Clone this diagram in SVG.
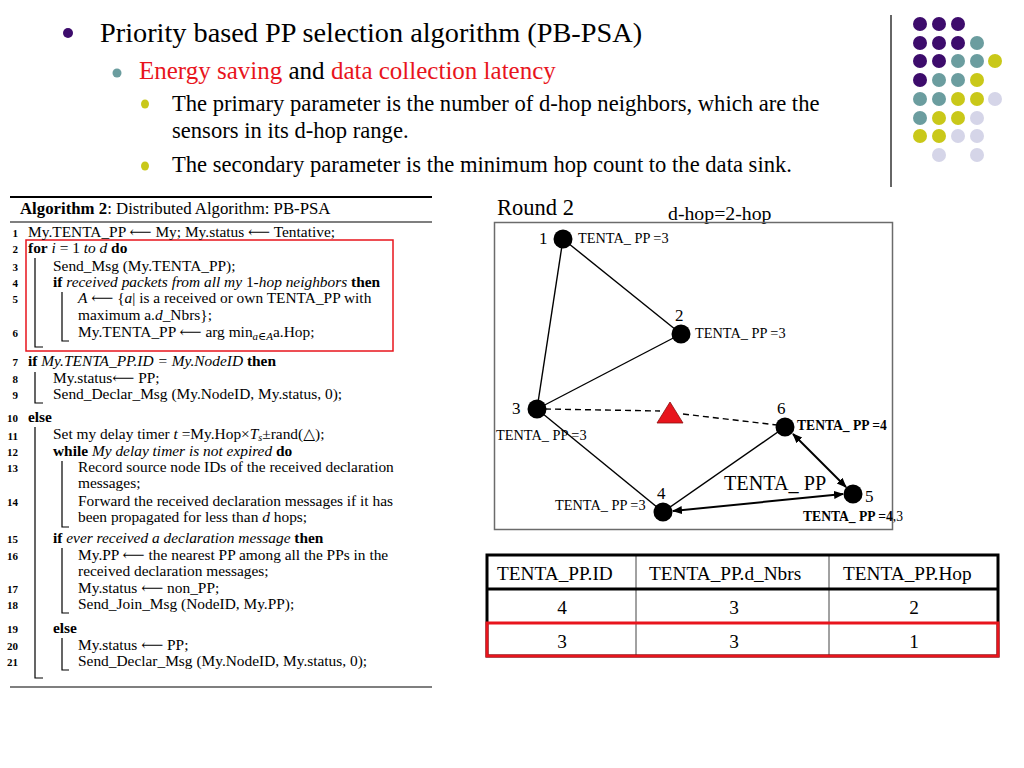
<svg xmlns="http://www.w3.org/2000/svg" width="1024" height="768" viewBox="0 0 1024 768">
<style>
.s{font-family:"Liberation Serif","DejaVu Serif",serif;fill:#000}
.red{fill:#e8141c}
.c{font-size:15.4px}
.n{font-size:11px;font-weight:bold;text-anchor:end}
.b{font-weight:bold}
.i{font-style:italic}
.bar{stroke:#000;stroke-width:1.2;fill:none}
.lbl{font-size:14.3px}
.num{font-size:17px}
.e{stroke:#000;stroke-width:1.4;fill:none}
.a{stroke:#000;stroke-width:2;fill:none;marker-start:url(#ah);marker-end:url(#ah)}
.pu{fill:#3d0c6c}.te{fill:#6b9d9f}.ye{fill:#c9c819}.la{fill:#d5d5e8}
</style>
<defs>
<marker id="ah" viewBox="0 0 10 10" refX="9" refY="5" markerWidth="5" markerHeight="5" orient="auto-start-reverse" markerUnits="strokeWidth"><path d="M0,1 L10,5 L0,9 z" fill="#000"/></marker>
</defs>
<rect width="1024" height="768" fill="#fff"/>

<g id="bullets">
<circle cx="68" cy="33" r="5" class="pu"/>
<text x="100" y="42" class="s" font-size="28.3">Priority based PP selection algorithm (PB-PSA)</text>
<circle cx="117" cy="73" r="4.5" class="te"/>
<text x="139" y="79" class="s" font-size="25"><tspan class="red">Energy saving</tspan> and <tspan class="red">data collection latency</tspan></text>
<ellipse cx="145" cy="104" rx="4" ry="4.5" class="ye"/>
<text x="172" y="111" class="s" font-size="22.6">The primary parameter is the number of d-hop neighbors, which are the</text>
<text x="172" y="138" class="s" font-size="22.6">sensors in its d-hop range.</text>
<ellipse cx="145" cy="166" rx="4" ry="4.5" class="ye"/>
<text x="172" y="172" class="s" font-size="22.6">The secondary parameter is the minimum hop count to the data sink.</text>
</g>

<g id="decor">
<line x1="891" y1="15" x2="891" y2="187" stroke="#333" stroke-width="1.5"/>
<circle cx="920" cy="24" r="7" class="pu"/><circle cx="939" cy="24" r="7" class="pu"/><circle cx="958" cy="24" r="7" class="pu"/>
<circle cx="920" cy="43" r="7" class="pu"/><circle cx="939" cy="43" r="7" class="pu"/><circle cx="958" cy="43" r="7" class="pu"/><circle cx="977" cy="43" r="7" class="te"/>
<circle cx="920" cy="61" r="7" class="pu"/><circle cx="939" cy="61" r="7" class="pu"/><circle cx="958" cy="61" r="7" class="te"/><circle cx="977" cy="61" r="7" class="te"/><circle cx="995" cy="61" r="7" class="ye"/>
<circle cx="920" cy="80" r="7" class="pu"/><circle cx="939" cy="80" r="7" class="te"/><circle cx="958" cy="80" r="7" class="te"/><circle cx="977" cy="80" r="7" class="ye"/>
<circle cx="920" cy="99" r="7" class="te"/><circle cx="939" cy="99" r="7" class="te"/><circle cx="958" cy="99" r="7" class="ye"/><circle cx="977" cy="99" r="7" class="ye"/><circle cx="995" cy="99" r="7" class="la"/>
<circle cx="920" cy="118" r="7" class="te"/><circle cx="939" cy="118" r="7" class="ye"/><circle cx="958" cy="118" r="7" class="ye"/><circle cx="977" cy="118" r="7" class="la"/>
<circle cx="920" cy="136" r="7" class="ye"/><circle cx="939" cy="136" r="7" class="ye"/><circle cx="958" cy="136" r="7" class="la"/><circle cx="977" cy="136" r="7" class="la"/>
<circle cx="939" cy="155" r="7" class="la"/><circle cx="977" cy="155" r="7" class="la"/>
</g>

<g id="algorithm">
<line x1="10" y1="197" x2="432" y2="197" stroke="#000" stroke-width="2"/>
<text x="20" y="214" class="s" font-size="16.8"><tspan class="b">Algorithm 2</tspan>: Distributed Algorithm: PB-PSA</text>
<line x1="10" y1="222" x2="432" y2="222" stroke="#000" stroke-width="1.2"/>
<rect x="26" y="240" width="367" height="111" fill="none" stroke="#e8141c" stroke-width="1.5"/>
<g class="s">
<text x="18" y="237" class="n">1</text><text x="18" y="253" class="n">2</text><text x="18" y="271" class="n">3</text><text x="18" y="287" class="n">4</text><text x="18" y="303" class="n">5</text><text x="18" y="337" class="n">6</text>
<text x="18" y="366" class="n">7</text><text x="18" y="383" class="n">8</text><text x="18" y="399" class="n">9</text><text x="18" y="422" class="n">10</text><text x="18" y="440" class="n">11</text><text x="18" y="456" class="n">12</text><text x="18" y="472" class="n">13</text><text x="18" y="506" class="n">14</text>
<text x="18" y="543" class="n">15</text><text x="18" y="560" class="n">16</text><text x="18" y="593" class="n">17</text><text x="18" y="609" class="n">18</text><text x="18" y="633" class="n">19</text><text x="18" y="650" class="n">20</text><text x="18" y="666" class="n">21</text>
</g>
<g class="s c">
<text x="28" y="237">My.TENTA_PP ⟵ My; My.status ⟵ Tentative;</text>
<text x="28" y="253"><tspan class="b">for</tspan> <tspan class="i">i</tspan> = 1 <tspan class="i">to d</tspan> <tspan class="b">do</tspan></text>
<text x="53" y="271">Send_Msg (My.TENTA_PP);</text>
<text x="53" y="287"><tspan class="b">if</tspan> <tspan class="i">received packets from all my</tspan> 1-<tspan class="i">hop neighbors</tspan> <tspan class="b">then</tspan></text>
<text x="78" y="303"><tspan class="i">A</tspan> ⟵ {<tspan class="i">a</tspan>| is a received or own TENTA_PP with</text>
<text x="78" y="320">maximum a.<tspan class="i">d</tspan>_Nbrs};</text>
<text x="78" y="337">My.TENTA_PP ⟵ arg min<tspan class="i" font-size="11" dy="3">a∈A</tspan><tspan dy="-3">a.Hop;</tspan></text>
<text x="28" y="366"><tspan class="b">if</tspan> <tspan class="i">My.TENTA_PP.ID = My.NodeID</tspan> <tspan class="b">then</tspan></text>
<text x="53" y="383">My.status⟵ PP;</text>
<text x="53" y="399">Send_Declar_Msg (My.NodeID, My.status, 0);</text>
<text x="28" y="422" class="b">else</text>
<text x="53" y="439">Set my delay timer <tspan class="i">t</tspan> =My.Hop×<tspan class="i">T<tspan font-size="10" dy="2">s</tspan></tspan><tspan dy="-2">±rand(△);</tspan></text>
<text x="53" y="456"><tspan class="b">while</tspan> <tspan class="i">My delay timer is not expired</tspan> <tspan class="b">do</tspan></text>
<text x="78" y="472">Record source node IDs of the received declaration</text>
<text x="78" y="488">messages;</text>
<text x="78" y="506">Forward the received declaration messages if it has</text>
<text x="78" y="522">been propagated for less than <tspan class="i">d</tspan> hops;</text>
<text x="53" y="543"><tspan class="b">if</tspan> <tspan class="i">ever received a declaration message</tspan> <tspan class="b">then</tspan></text>
<text x="78" y="560">My.PP ⟵ the nearest PP among all the PPs in the</text>
<text x="78" y="576">received declaration messages;</text>
<text x="78" y="593">My.status ⟵ non_PP;</text>
<text x="78" y="609">Send_Join_Msg (NodeID, My.PP);</text>
<text x="53" y="633" class="b">else</text>
<text x="78" y="650">My.status ⟵ PP;</text>
<text x="78" y="666">Send_Declar_Msg (My.NodeID, My.status, 0);</text>
</g>
<path class="bar" d="M35,258 V347 H43"/>
<path class="bar" d="M62,292 V341 H69"/>
<path class="bar" d="M35,372 V403 H43"/>
<path class="bar" d="M35,427 V678 H43"/>
<path class="bar" d="M62,461 V527 H69"/>
<path class="bar" d="M62,548 V613 H69"/>
<path class="bar" d="M62,638 V670 H69"/>
<line x1="10" y1="687" x2="432" y2="687" stroke="#000" stroke-width="1.2"/>
</g>

<g id="graph-frame">
<text x="497" y="215" class="s" font-size="22.5">Round 2</text>
<text x="668" y="220" class="s" font-size="19.8">d-hop=2-hop</text>
<rect x="494.5" y="222.5" width="398" height="307" fill="none" stroke="#6b6b6b" stroke-width="1.5"/>
</g>

<g id="connectors">
<line class="e" x1="563" y1="239" x2="537" y2="409"/>
<line class="e" x1="563" y1="239" x2="681" y2="334"/>
<line class="e" x1="681" y1="334" x2="537" y2="409"/>
<line class="e" x1="537" y1="409" x2="663" y2="512"/>
<line class="e" x1="663" y1="512" x2="785" y2="427"/>
<path class="e" d="M545,409 L660,411 M683,414 L777,425" stroke-dasharray="6,4"/>
<line class="a" x1="793" y1="434" x2="846" y2="487"/>
<line class="a" x1="673" y1="511" x2="843" y2="494"/>
</g>

<g id="node-1"><circle cx="563" cy="239" r="9.5"/><text x="539" y="244" class="s num">1</text><text x="578" y="243" class="s lbl">TENTA_ PP =3</text></g>
<g id="node-2"><circle cx="681" cy="334" r="9.5"/><text x="675" y="321" class="s num">2</text><text x="695" y="338" class="s lbl">TENTA_ PP =3</text></g>
<g id="node-3"><circle cx="537" cy="409" r="9.5"/><text x="512" y="414" class="s num">3</text><text x="496" y="440" class="s lbl">TENTA_ PP =3</text></g>
<g id="node-4"><circle cx="663" cy="512" r="9.5"/><text x="657" y="499" class="s num">4</text><text x="555" y="510" class="s lbl">TENTA_ PP =3</text></g>
<g id="node-5"><circle cx="853" cy="494" r="9.5"/><text x="865" y="502" class="s num">5</text><text x="803" y="521" class="s" font-size="13.6"><tspan class="b">TENTA_ PP =4</tspan>,3</text></g>
<g id="node-6"><circle cx="785" cy="427" r="9.5"/><text x="777" y="414" class="s num">6</text><text x="797" y="430" class="s b" font-size="13.6">TENTA_ PP =4</text></g>
<g id="sink"><polygon points="657,423 683,423 670,402" fill="#e8141c" stroke="#8a1010" stroke-width="0.8"/></g>
<g id="edge-label"><text x="724" y="490" class="s" font-size="20.2">TENTA_ PP</text></g>

<g id="table">
<line x1="636" y1="554" x2="636" y2="657" stroke="#444" stroke-width="1"/>
<line x1="829" y1="554" x2="829" y2="657" stroke="#444" stroke-width="1"/>
<rect x="487" y="555" width="511" height="101" fill="none" stroke="#000" stroke-width="3"/>
<line x1="487" y1="589" x2="998" y2="589" stroke="#000" stroke-width="3"/>
<rect x="487" y="623" width="511" height="33" fill="none" stroke="#e8141c" stroke-width="3"/>
<g class="s" font-size="19.3">
<text x="497" y="580">TENTA_PP.ID</text><text x="649" y="580">TENTA_PP.d_Nbrs</text><text x="843" y="580">TENTA_PP.Hop</text>
<text x="562" y="614" text-anchor="middle">4</text><text x="734" y="614" text-anchor="middle">3</text><text x="914" y="614" text-anchor="middle">2</text>
<text x="562" y="648" text-anchor="middle">3</text><text x="734" y="648" text-anchor="middle">3</text><text x="914" y="648" text-anchor="middle">1</text>
</g>
</g>
</svg>
